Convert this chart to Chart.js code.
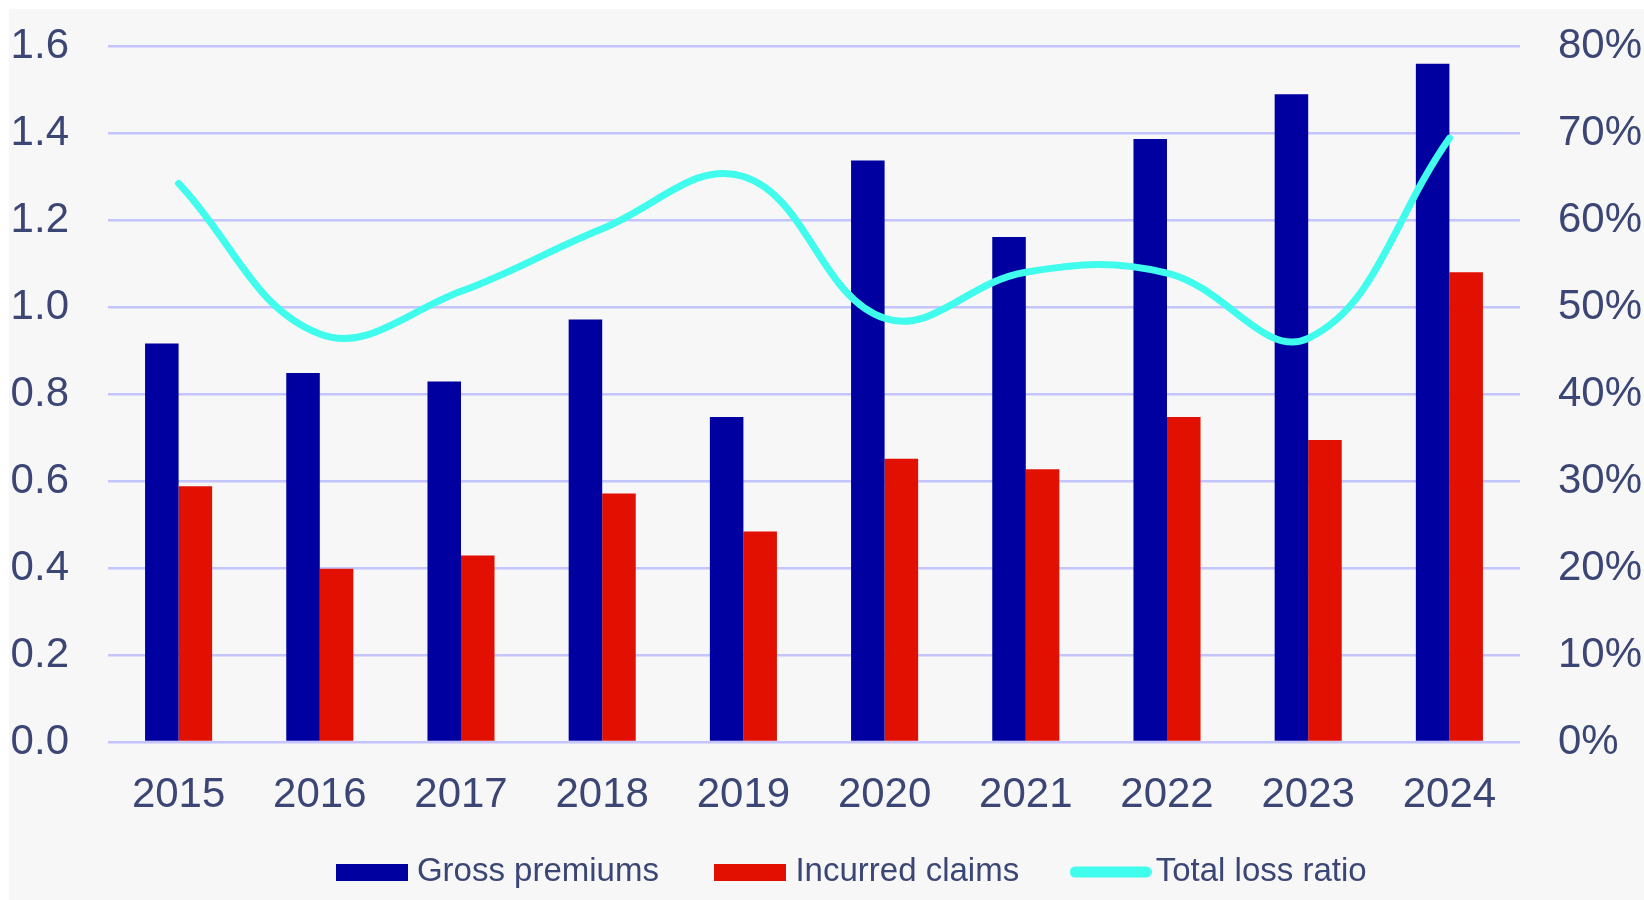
<!DOCTYPE html>
<html>
<head>
<meta charset="utf-8">
<script src="https://cdn.jsdelivr.net/npm/chart.js@4"></script>
<style>
  html, body { margin: 0; padding: 0; background: #ffffff; }
  #wrap { position: absolute; left: 9px; top: 9px; width: 1635px; height: 891px; background: #f7f7f7; }
</style>
</head>
<body>
<div id="wrap"><canvas id="chart"></canvas></div>
<script>
  // data
  const years = ["2015", "2016", "2017", "2018", "2019", "2020", "2021", "2022", "2023", "2024"];
  const grossPremiums = [0.916, 0.848, 0.829, 0.971, 0.747, 1.337, 1.161, 1.386, 1.489, 1.559];
  const incurredClaims = [0.588, 0.398, 0.429, 0.571, 0.484, 0.651, 0.627, 0.747, 0.694, 1.080];
  const lossRatio = [64.2, 46.9, 51.8, 59.0, 65.0, 48.7, 54.0, 53.9, 46.4, 69.4];
  const leftTicks = [0, 0.2, 0.4, 0.6, 0.8, 1.0, 1.2, 1.4, 1.6];
  const rightTicks = [0, 10, 20, 30, 40, 50, 60, 70, 80];

  const textColor = "#3b4674";
  const fontFamily = "'Liberation Sans', Arial, sans-serif";
  const blue = "#0000a0";
  const red = "#e21000";
  const cyan = "#40fcec";

  // legend symbols
  function legendRect(color) {
    const c = document.createElement("canvas");
    c.width = 72;
    c.height = 17;
    const g = c.getContext("2d");
    g.fillStyle = color;
    g.fillRect(0, 0, 72, 17);
    return c;
  }
  function legendLine(color) {
    const c = document.createElement("canvas");
    c.width = 82;
    c.height = 12;
    const g = c.getContext("2d");
    g.strokeStyle = color;
    g.lineWidth = 11;
    g.lineCap = "round";
    g.beginPath();
    g.moveTo(5.5, 6);
    g.lineTo(76.5, 6);
    g.stroke();
    return c;
  }
  const legendSymbols = [legendRect(blue), legendRect(red), legendLine(cyan)];

  // move the legend to where it sits in the picture
  const legendShift = {
    id: "legendShift",
    afterLayout(chart) {
      const lg = chart.legend;
      const dx = 846 - (lg.left + lg.right) / 2;
      lg.left += dx;
      lg.right += dx;
      lg.top = 783.5;
      lg.height = 105;
      lg.bottom = lg.top + lg.height;
    },
  };

  // y axes: no extra padding above / below the plot
  function noVPad(scale) {
    scale.paddingTop = 0;
    scale.paddingBottom = 0;
  }

  new Chart(document.getElementById("chart"), {
    type: "bar",
    plugins: [legendShift],
    data: {
      labels: years,
      datasets: [
        {
          label: "Gross premiums",
          data: grossPremiums,
          backgroundColor: blue,
          borderWidth: 0,
          yAxisID: "y",
          order: 1,
        },
        {
          label: "Incurred claims",
          data: incurredClaims,
          backgroundColor: red,
          borderWidth: 0,
          yAxisID: "y",
          order: 1,
        },
        {
          type: "line",
          label: "Total loss ratio",
          data: lossRatio,
          borderColor: cyan,
          backgroundColor: cyan,
          borderWidth: 7,
          borderCapStyle: "round",
          tension: 0.4,
          pointRadius: 0,
          yAxisID: "y1",
          order: 0,
        },
      ],
    },
    options: {
      responsive: true,
      maintainAspectRatio: false,
      animation: false,
      categoryPercentage: 0.475,
      barPercentage: 1,
      layout: { padding: { left: 1, right: 0, top: 37, bottom: 0 } },
      scales: {
        x: {
          grid: { display: false, drawTicks: false },
          border: { display: false },
          ticks: { color: textColor, font: { family: fontFamily, size: 42 }, padding: 28, maxRotation: 0 },
          afterFit: function (scale) {
            scale.height = 79;
            scale.paddingLeft = 0;
            scale.paddingRight = 0;
          },
        },
        y: {
          position: "left",
          min: 0,
          max: 1.6,
          afterBuildTicks: function (scale) { scale.ticks = leftTicks.map(v => ({ value: v })); },
          grid: { color: "#c4c4ff", lineWidth: 2.5, drawTicks: false },
          border: { display: false },
          ticks: {
            color: textColor,
            font: { family: fontFamily, size: 42 },
            padding: 39,
            callback: v => v.toFixed(1),
          },
          afterFit: function (scale) {
            scale.width = 98;
            noVPad(scale);
          },
        },
        y1: {
          position: "right",
          min: 0,
          max: 80,
          afterBuildTicks: function (scale) { scale.ticks = rightTicks.map(v => ({ value: v })); },
          grid: { display: false, drawTicks: false },
          border: { display: false },
          ticks: {
            color: textColor,
            font: { family: fontFamily, size: 42 },
            padding: 38,
            callback: v => v + "%",
          },
          afterFit: function (scale) {
            scale.width = 124;
            noVPad(scale);
          },
        },
      },
      plugins: {
        legend: {
          position: "bottom",
          maxHeight: 79,
          labels: {
            color: textColor,
            font: { family: fontFamily, size: 33 },
            usePointStyle: true,
            pointStyleWidth: 57,
            boxHeight: 17,
            padding: 63,
            generateLabels: function (chart) {
              const items = Chart.defaults.plugins.legend.labels.generateLabels(chart);
              items.forEach(function (it) { it.pointStyle = legendSymbols[it.datasetIndex]; });
              return items.sort((a, b) => a.datasetIndex - b.datasetIndex);
            },
          },
        },
        tooltip: { enabled: false },
      },
    },
  });
</script>
</body>
</html>
